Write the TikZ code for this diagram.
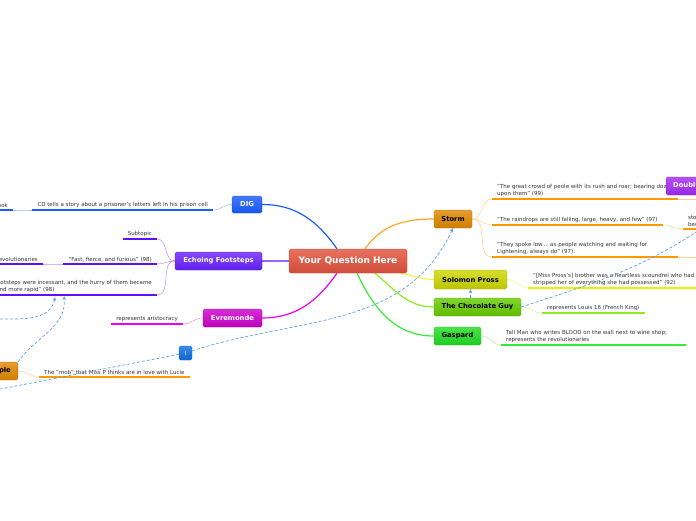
\documentclass[tikz,border=0pt]{standalone}
\usepackage{fontspec}
\setmainfont{DejaVu Sans}
\usetikzlibrary{positioning, calc, backgrounds, arrows.meta}
\definecolor{CenterColor}{HTML}{E2533C}
\definecolor{DigColor}{HTML}{1A5CFF}
\definecolor{EchoColor}{HTML}{6A22FF}
\definecolor{EvreColor}{HTML}{CC00CC}
\definecolor{StormColor}{HTML}{E08800}
\definecolor{DoubleColor}{HTML}{A52AF5}
\definecolor{ProssColor}{HTML}{CCD600}
\definecolor{ChocColor}{HTML}{66CC00}
\definecolor{GaspColor}{HTML}{22DD22}
\definecolor{IColor}{HTML}{1070E0}
\definecolor{RelColor}{HTML}{5AA0EE}
\definecolor{LeafText}{HTML}{333333}
\definecolor{UDig}{HTML}{1A5CFF}
\definecolor{UEcho}{HTML}{6010FF}
\definecolor{UEvre}{HTML}{EE00EE}
\definecolor{UOrange}{HTML}{FF9900}
\definecolor{UPross}{HTML}{EEEE00}
\definecolor{UChoc}{HTML}{88EE22}
\definecolor{UGasp}{HTML}{33EE33}
\tikzset{
    topic/.style={
        shape=rectangle,
        rounded corners=1.5pt,
        top color=#1!82!white,
        bottom color=#1!92!black,
        draw=#1!85!black,
        line width=0.3pt,
        text=white,
        font=\fontsize{6.8}{8}\selectfont\bfseries,
        inner sep=0pt,
        minimum height=18pt
    },
    darktopic/.style={topic=#1, text=black},
    leaf/.style={
        font=\fontsize{5.5}{7}\selectfont,
        text=LeafText,
        align=left,
        inner xsep=5pt,
        inner ysep=2pt
    },
    under/.style={line width=2pt, draw=#1},
    twig/.style={line width=0.5pt, draw=#1!45!white},
    branch/.style={line width=1.2pt, draw=#1},
    rel/.style={draw=RelColor, line width=0.7pt, dash pattern=on 3pt off 2pt, -{Stealth[length=4pt, width=3.5pt]}}
}

\begin{document}
\begin{tikzpicture}[x=1pt, y=1pt]
\useasboundingbox (0,0) rectangle (696,-520);

% Central topic
\node[topic=CenterColor, minimum width=118pt, minimum height=24pt, font=\fontsize{9}{10}\selectfont\bfseries] (cen) at (348,-261) {Your Question Here};

% Main topics
\node[topic=DigColor, minimum width=30pt, minimum height=17pt] (dig) at (247,-204.5) {DIG};
\node[topic=EchoColor, minimum width=87pt] (echo) at (218.5,-261) {Echoing Footsteps};
\node[topic=EvreColor, minimum width=59pt] (evre) at (232.5,-318) {Evremonde};
\node[darktopic=StormColor, minimum width=38pt] (storm) at (453,-219) {Storm};
\node[darktopic=ProssColor, minimum width=73pt, minimum height=19pt] (pross) at (470.5,-279.5) {Solomon Pross};
\node[darktopic=ChocColor, minimum width=87pt] (choc) at (477.5,-307) {The Chocolate Guy};
\node[darktopic=GaspColor, minimum width=47pt] (gasp) at (457.5,-336) {Gaspard};
\node[darktopic=StormColor, inner xsep=7pt, anchor=east] (people) at (18,-371) {People};

% DIG
\node[leaf, anchor=south east] (l_dig) at (213,-210) {CD tells a story about a prisoner's letters left in his prison cell};
\node[leaf, anchor=south east] (l_book) at (13,-210) {book};

% Echoing Footsteps
\node[leaf, anchor=south east] (l_sub) at (157,-239) {Subtopic};
\node[leaf, anchor=south east] (l_fast) at (157,-264) {"Fast, fierce, and furious" (98)};
\node[leaf, anchor=south east] (l_revo) at (43,-264) {revolutionaries};
\node[leaf, anchor=south east] (l_steps) at (157,-295) {"The footsteps were incessant, and the hurry of them became\\more and more rapid" (98)};

% Evremonde
\node[leaf, anchor=south east] (l_aristo) at (183,-324) {represents aristocracy};

% People
\node[leaf, anchor=south west] (l_mob) at (39,-377) {The "mob" that Miss P thinks are in love with Lucie};

% Storm
\node[leaf, anchor=south west, text width=176pt] (l_crowd) at (492,-199) {"The great crowd of peole with its rush and roar; bearing down\\upon them" (99)};
\node[leaf, anchor=south west] (l_rain) at (492,-225) {"The raindrops are still falling, large, heavy, and few" (97)};
\node[leaf, anchor=south west] (l_because) at (683,-229) {storm\\because};
\node[leaf, anchor=south west, text width=176pt] (l_low) at (492,-257) {"They spoke low... as people watching and waiting for\\Lightening, always do" (97).};
\coordinate (crowd_out) at (712,-199);
\coordinate (low_out) at (712,-257);

% Solomon Pross, Chocolate Guy, Gaspard
\node[leaf, anchor=south west, text width=180pt] (l_brother) at (528,-288) {"[Miss Pross's] brother was a heartless scoundrel who had\\stripped her of everything she had possessed" (92)};
\node[leaf, anchor=south west] (l_louis) at (542,-313) {represents Louis 16 (French King)};
\node[leaf, anchor=south west, text width=175pt] (l_tall) at (501,-345) {Tall Man who writes BLOOD on the wall next to wine shop;\\represents the revolutionaries};

% Floating topic
\node[topic=DoubleColor, inner xsep=7pt, anchor=west] (double) at (666,-186) {Doubling};

% Underlines
\draw[under=UDig] (l_dig.south west) -- (l_dig.south east);
\draw[under=UDig] (l_book.south west) -- (l_book.south east);
\draw[under=UEcho] (l_sub.south west) -- (l_sub.south east);
\draw[under=UEcho] (l_fast.south west) -- (l_fast.south east);
\draw[under=UEcho] (l_revo.south west) -- (l_revo.south east);
\draw[under=UEcho] (l_steps.south west) -- (l_steps.south east);
\draw[under=UEvre] (l_aristo.south west) -- (l_aristo.south east);
\draw[under=UOrange] (l_mob.south west) -- (l_mob.south east);
\draw[under=UOrange] (l_crowd.south west) -- (l_crowd.south east);
\draw[under=UOrange] (l_rain.south west) -- (l_rain.south east);
\draw[under=UOrange] (l_because.south west) -- (l_because.south east);
\draw[under=UOrange] (l_low.south west) -- (l_low.south east);
\draw[under=UPross] (l_brother.south west) -- (l_brother.south east);
\draw[under=UChoc] (l_louis.south west) -- (l_louis.south east);
\draw[under=UGasp] (l_tall.south west) -- (l_tall.south east);

\begin{scope}[on background layer]
% Branches
\draw[branch=DigColor] ($(cen.north)+(-11,0)$) to[out=125, in=0] (dig.east);
\draw[branch=EchoColor!70!white] (cen.west) -- (echo.east);
\draw[branch=UEvre] ($(cen.south)+(-11,0)$) to[out=235, in=0] (evre.east);
\draw[branch=UOrange!85!white] ($(cen.north)+(17,0)$) to[out=55, in=180] (storm.west);
\draw[branch=UPross!70!white] ($(cen.south)+(52,0)$) to[out=-10, in=180] (pross.west);
\draw[branch=UChoc] ($(cen.south)+(27,0)$) to[out=-40, in=180] (choc.west);
\draw[branch=UGasp] ($(cen.south)+(9,0)$) to[out=-65, in=180] (gasp.west);
% Twigs
\draw[twig=UDig] (dig.west) to[out=180, in=0] (l_dig.south east);
\draw[twig=UDig] (l_dig.south west) to[out=180, in=0] (l_book.south east);
\draw[twig=UEcho] (echo.west) to[out=180, in=0] (l_sub.south east);
\draw[twig=UEcho] (echo.west) to[out=180, in=0] (l_fast.south east);
\draw[twig=UEcho] (echo.west) to[out=180, in=0] (l_steps.south east);
\draw[twig=UEcho] (l_fast.south west) to[out=180, in=0] (l_revo.south east);
\draw[twig=UEvre] (evre.west) to[out=180, in=0] (l_aristo.south east);
\draw[twig=UOrange] (people.east) to[out=0, in=180] (l_mob.south west);
\draw[twig=UOrange] (storm.east) to[out=0, in=180] (l_crowd.south west);
\draw[twig=UOrange] (storm.east) to[out=0, in=180] (l_rain.south west);
\draw[twig=UOrange] (storm.east) to[out=0, in=180] (l_low.south west);
\draw[twig=UOrange] (l_rain.south east) to[out=0, in=180] (l_because.south west);
\draw[twig=UOrange] (l_crowd.south east) -- (crowd_out);
\draw[twig=UOrange] (l_low.south east) -- (low_out);
\draw[twig=UPross] (pross.east) to[out=0, in=180] (l_brother.south west);
\draw[twig=UChoc] (choc.east) to[out=0, in=180] (l_louis.south west);
\draw[twig=UGasp] (gasp.east) to[out=0, in=180] (l_tall.south west);
\end{scope}

% Relationships
\node[topic=IColor, minimum width=13pt, minimum height=14pt, font=\fontsize{5.5}{6}\selectfont] (rel_i) at (185.5,-353) {I};
\coordinate (rel_from) at (-20,-393);
\coordinate (rel_out) at (714,-220);
\coordinate (steps_a) at (64,-296);
\coordinate (steps_b) at (55,-297);
\coordinate (rel_left) at (-5,-319);
\draw[rel, -] (rel_from) -- (rel_i);
\draw[rel] (rel_i) to[out=18, in=-115] (storm.south);
\draw[rel, -] (choc.east) to[out=18, in=215] (rel_out);
\draw[rel] (choc.north -| pross.south) -- (pross.south);
\draw[rel] (people.north east) to[out=55, in=-85] (steps_a);
\draw[rel] (rel_left) to[out=0, in=-100] (steps_b);

\end{tikzpicture}
\end{document}
